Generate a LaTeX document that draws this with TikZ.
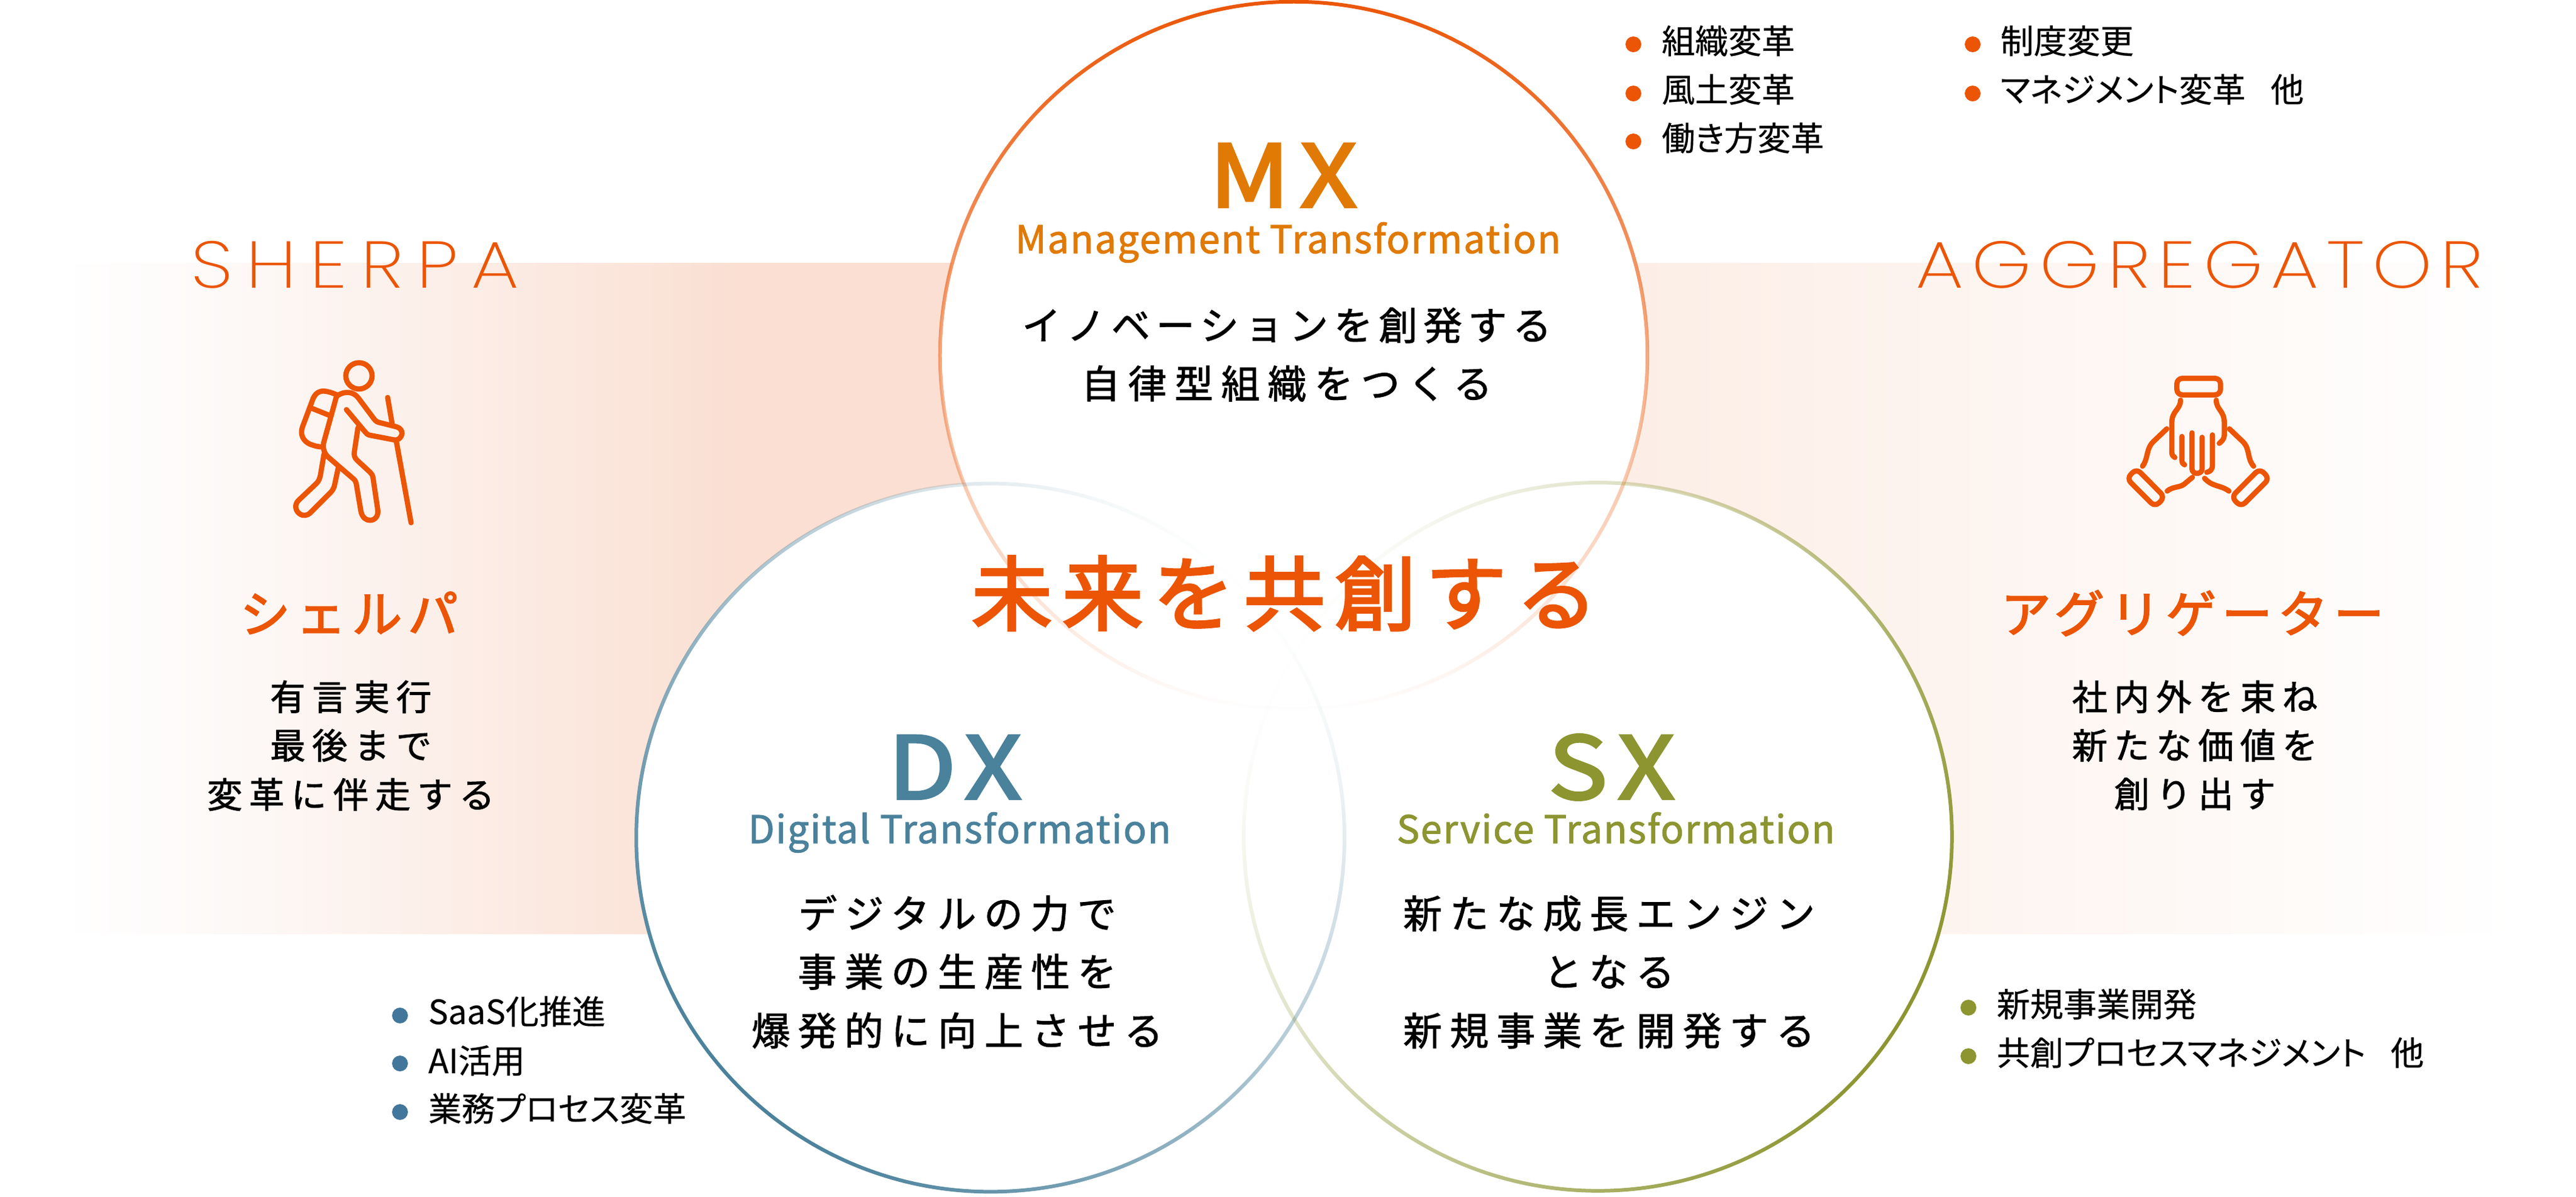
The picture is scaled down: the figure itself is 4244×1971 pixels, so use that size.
\documentclass[tikz,border=0pt]{standalone}
\usepackage{fontspec}
\usetikzlibrary{fadings}

\newfontfamily\jpfont[RawFeature=+palt,FakeBold=0.4]{Noto Sans CJK JP}
\newfontfamily\bodyfont[LetterSpace=20,FakeBold=1.5]{Noto Sans CJK JP}
\newfontfamily\tightfont[LetterSpace=15,FakeBold=1.5]{Noto Sans CJK JP}
\newfontfamily\sidefont[LetterSpace=18.6,FakeBold=1.5]{Noto Sans CJK JP}
\newfontfamily\rolefont[LetterSpace=11.5,FakeBold=2.6]{Noto Sans CJK JP}
\newfontfamily\titlefont[LetterSpace=12,FakeBold=2.8]{Noto Sans CJK JP}
\newfontfamily\headfont[LetterSpace=12,FakeBold=3,FakeStretch=1.15]{Noto Sans CJK JP}
\newfontfamily\subfont[LetterSpace=3.2,FakeBold=1.6]{Noto Sans CJK JP}
\newfontfamily\thinfont[LetterSpace=20,FakeStretch=1.15]{Poppins ExtraLight}
\newfontfamily\thinerfont[LetterSpace=12,FakeStretch=1.15]{Poppins ExtraLight}

\definecolor{mxorange}{HTML}{E07A05}
\definecolor{mainorange}{HTML}{EB5505}
\definecolor{dxteal}{HTML}{4A819B}
\definecolor{dxdot}{HTML}{43769B}
\definecolor{sxolive}{HTML}{8C9530}
\definecolor{bandleft}{HTML}{FADFD2}
\definecolor{bandpale}{HTML}{FDF8F6}
\definecolor{bandright}{HTML}{FCEDE5}

\tikzfading[name=ringfade, top color=transparent!0, bottom color=transparent!100]

\tikzset{
	plaintext/.style={anchor=base, inner sep=0pt},
	bodytext/.style={plaintext, font=\bodyfont\fontsize{18.2}{18.2}\selectfont},
	sidetext/.style={plaintext, font=\sidefont\fontsize{16.6}{16.6}\selectfont},
	roletext/.style={plaintext, text=mainorange, font=\rolefont\fontsize{23.5}{23.5}\selectfont},
	headtext/.style={plaintext, font=\headfont\fontsize{40.4}{40.4}\selectfont},
	subtext/.style={plaintext, font=\subfont\fontsize{17.9}{17.9}\selectfont},
	itemtext/.style={anchor=base west, inner sep=0pt, font=\jpfont\fontsize{15.6}{15.6}\selectfont},
	itemdot/.style={circle, inner sep=0pt, minimum size=0.26cm},
	iconline/.style={draw=mainorange, line width=2.45pt, line cap=round, line join=round}
}

\begin{document}
\begin{tikzpicture}[x=0.01cm, y=-0.01cm]
	\useasboundingbox (0,0) rectangle (4244,1971);

	\fill[left color=white, right color=bandpale] (100,433) rectangle (420,1538);
	\fill[left color=bandpale, right color=bandleft] (419,433) rectangle (1220,1538);
	\fill[bandleft] (1219,433) rectangle (1700,1538);
	\fill[left color=bandright, right color=white] (2600,433) rectangle (4150,1538);

	\fill[white] (2132,585) circle (583);
	\fill[white] (1630,1380) circle (584);
	\fill[white] (2633,1380) circle (584);

	\fill[mainorange, even odd rule, path fading=ringfade, fading angle=0] (2132,585) circle (586) circle (580);
	\fill[dxteal, even odd rule, path fading=ringfade, fading angle=135] (1630,1380) circle (587) circle (581);
	\fill[sxolive, even odd rule, path fading=ringfade, fading angle=240] (2633,1380) circle (587) circle (581);

	\node[plaintext, text=mainorange, font=\thinfont\fontsize{31}{31}\selectfont] (sherpaname) at (585,474) {SHERPA};
	\node[plaintext, text=mainorange, font=\thinerfont\fontsize{31}{31}\selectfont] (aggname) at (3624,474) {AGGREGATOR};

	\begin{scope}[shift={(420,540)}, x=0.003333cm, y=-0.003333cm]
		\draw[iconline] (515,238) circle (65);
		\draw[iconline] (405,332) .. controls (375,318) and (345,310) .. (325,315) .. controls (305,320) and (295,335) .. (288,350) -- (235,492) .. controls (222,530) and (240,560) .. (270,575) .. controls (295,585) and (315,590) .. (338,590);
		\draw[iconline] (285,400) -- (365,432);
		\draw[iconline] (405,335) -- (340,570) .. controls (335,600) and (345,625) .. (365,642) -- (490,750) .. controls (498,757) and (502,770) .. (503,780) -- (525,910) .. controls (532,940) and (550,953) .. (570,953) .. controls (595,953) and (613,930) .. (608,900) -- (585,745) .. controls (583,730) and (578,722) .. (570,715) -- (505,655) .. controls (492,642) and (490,630) .. (492,615) -- (510,495);
		\draw[iconline] (410,335) .. controls (445,312) and (485,315) .. (510,345) -- (585,445) .. controls (592,455) and (600,465) .. (612,468) -- (700,490) .. controls (720,495) and (728,510) .. (728,522) .. controls (726,545) and (708,558) .. (690,555) -- (570,532) .. controls (558,530) and (550,522) .. (545,515) -- (453,405);
		\draw[iconline] (657,345) -- (680,480);
		\draw[iconline] (700,562) -- (773,965);
		\draw[iconline] (342,625) -- (325,725) .. controls (322,745) and (315,760) .. (305,770) -- (215,855) .. controls (195,875) and (200,905) .. (220,920) .. controls (240,935) and (260,928) .. (272,918) -- (375,815) .. controls (388,800) and (392,790) .. (395,775) -- (412,695);
	\end{scope}

	\begin{scope}[shift={(3420,580)}, x=0.003333cm, y=-0.003333cm]
		\draw[iconline, rounded corners=2.6pt] (500,130) -- (716,130) -- (716,212) -- (500,212) -- cycle;
		\draw[iconline] (518,238) .. controls (518,285) and (475,290) .. (475,350) -- (475,495) .. controls (475,510) and (482,518) .. (490,522);
		\draw[iconline] (695,238) .. controls (695,285) and (735,290) .. (735,350) -- (735,410) .. controls (735,430) and (722,442) .. (710,452);
		\draw[iconline] (525,418) -- (525,535) .. controls (525,548) and (530,555) .. (538,558);
		\draw[iconline] (575,400) -- (575,578) .. controls (575,608) and (625,608) .. (625,578) -- (625,422);
		\draw[iconline] (676,410) -- (676,560) .. controls (676,582) and (665,592) .. (648,595);
		\draw[iconline, rounded corners=2.6pt] (300,577) -- (440,718) -- (392,766) -- (252,626) -- cycle;
		\draw[iconline, rounded corners=2.6pt] (910,577) -- (958,626) -- (818,766) -- (770,718) -- cycle;
		\draw[iconline] (450,380) -- (385,442) .. controls (345,480) and (360,525) .. (330,565);
		\draw[iconline] (452,688) .. controls (480,665) and (510,672) .. (535,655) -- (577,620);
		\draw[iconline] (760,380) -- (825,442) .. controls (865,480) and (845,525) .. (880,565);
		\draw[iconline] (637,625) .. controls (680,670) and (710,655) .. (758,688);
	\end{scope}

	\node[roletext] (sherparole) at (575,1042) {シェルパ};
	\node[sidetext] (sherpaa) at (578,1170) {有言実行};
	\node[sidetext] (sherpab) at (578,1250) {最後まで};
	\node[sidetext] (sherpac) at (578,1331) {変革に伴走する};

	\node[roletext] (aggrole) at (3612,1042) {アグリゲーター};
	\node[sidetext] (agga) at (3616,1170) {社内外を束ね};
	\node[sidetext] (aggb) at (3616,1250) {新たな価値を};
	\node[sidetext] (aggc) at (3616,1330) {創り出す};

	\node[headtext, text=mxorange] (mxhead) at (2114,341) {MX};
	\node[subtext, text=mxorange] (mxsub) at (2122,417) {Management Transformation};
	\node[plaintext, font=\tightfont\fontsize{18.2}{18.2}\selectfont] (mxa) at (2120,560) {イノベーションを創発する};
	\node[bodytext] (mxb) at (2120,656) {自律型組織をつくる};

	\node[plaintext, text=mainorange, font=\titlefont\fontsize{38}{38}\selectfont] (maintitle) at (2116,1028) {未来を共創する};

	\node[headtext, text=dxteal] (dxhead) at (1573,1316) {DX};
	\node[subtext, text=dxteal] (dxsub) at (1581,1389) {Digital Transformation};
	\node[bodytext] (dxa) at (1577,1529) {デジタルの力で};
	\node[bodytext] (dxb) at (1577,1625) {事業の生産性を};
	\node[bodytext] (dxc) at (1577,1722) {爆発的に向上させる};

	\node[headtext, text=sxolive] (sxhead) at (2655,1316) {SX};
	\node[subtext, text=sxolive] (sxsub) at (2662,1389) {Service Transformation};
	\node[bodytext] (sxa) at (2651,1529) {新たな成長エンジン};
	\node[bodytext] (sxb) at (2651,1625) {となる};
	\node[bodytext] (sxc) at (2651,1722) {新規事業を開発する};

	\node[itemdot, fill=mainorange] (mxdota) at (2691,73) {};
	\node[itemdot, fill=mainorange] (mxdotb) at (2691,154) {};
	\node[itemdot, fill=mainorange] (mxdotc) at (2691,233) {};
	\node[itemdot, fill=mainorange] (mxdotd) at (3250,73) {};
	\node[itemdot, fill=mainorange] (mxdote) at (3250,154) {};
	\node[itemtext] (mxitema) at (2737,88) {組織変革};
	\node[itemtext] (mxitemb) at (2737,168) {風土変革};
	\node[itemtext] (mxitemc) at (2737,248) {働き方変革};
	\node[itemtext] (mxitemd) at (3295,88) {制度変更};
	\node[itemtext] (mxiteme) at (3295,168) {マネジメント変革\hspace{0.75em}他};

	\node[itemdot, fill=dxdot] (dxdota) at (659,1673) {};
	\node[itemdot, fill=dxdot] (dxdotb) at (659,1752) {};
	\node[itemdot, fill=dxdot] (dxdotc) at (659,1832) {};
	\node[itemtext] (dxitema) at (705,1687) {SaaS化推進};
	\node[itemtext] (dxitemb) at (705,1768) {AI活用};
	\node[itemtext] (dxitemc) at (705,1847) {業務プロセス変革};

	\node[itemdot, fill=sxolive] (sxdota) at (3243,1660) {};
	\node[itemdot, fill=sxolive] (sxdotb) at (3243,1740) {};
	\node[itemtext] (sxitema) at (3289,1675) {新規事業開発};
	\node[itemtext] (sxitemb) at (3289,1755) {共創プロセスマネジメント\hspace{0.75em}他};
\end{tikzpicture}
\end{document}
